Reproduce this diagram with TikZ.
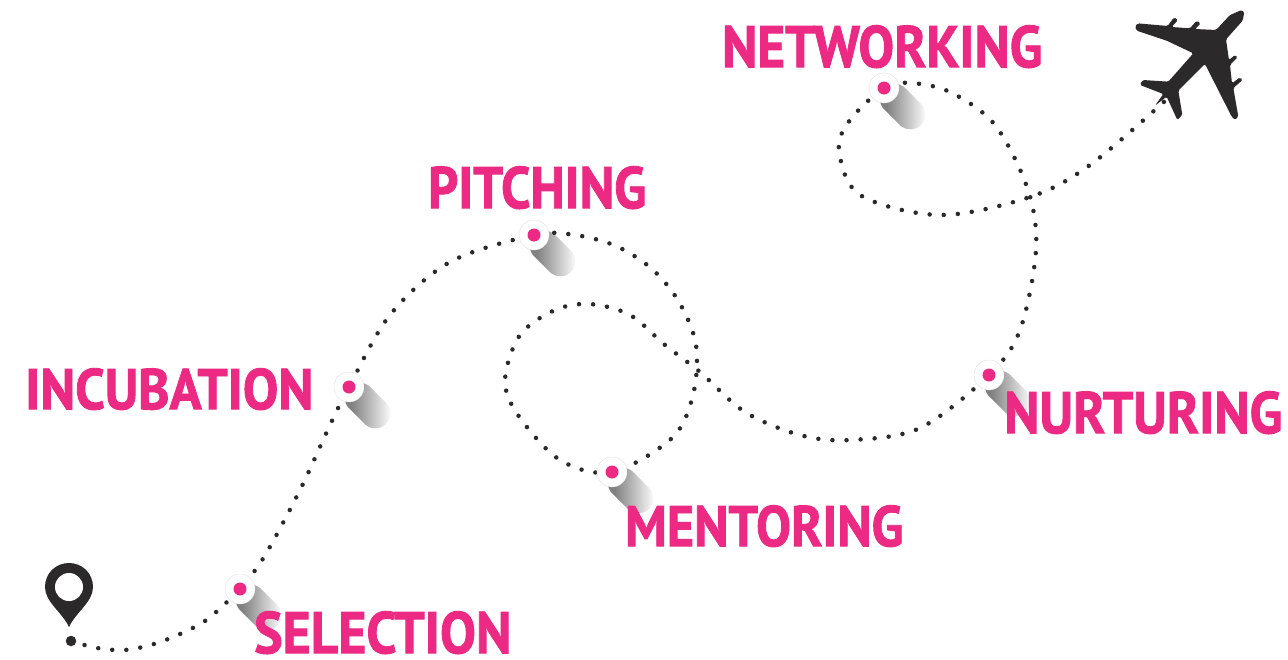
\documentclass[tikz,border=0pt]{standalone}
\usepackage{fontspec}
\usepackage{graphicx}
\setmainfont{PT Sans}[BoldFeatures={FakeBold=1.6}]
\definecolor{hot}{HTML}{EC2A84}
\definecolor{ink}{HTML}{2B292A}
\pgfdeclarehorizontalshading{capfade}{100bp}{color(0bp)=(black!50); color(36bp)=(black!50); color(71bp)=(white); color(100bp)=(white)}
\tikzset{
  trail/.style={draw=ink,line width=4.5pt,line cap=round,dash pattern=on 0pt off 14.1pt},
  halo/.style={circle,fill=white,draw=black!12,line width=.4pt,minimum size=30pt,inner sep=0pt},
  core/.style={circle,fill=hot,minimum size=13pt,inner sep=0pt},
  castshadow/.style={rectangle,rotate=-45,anchor=west,minimum width=52pt,minimum height=30pt,rounded corners=15pt,
     shading=capfade,draw=none,inner sep=0pt},
  lbl/.style={text=hot,inner sep=0pt,anchor=north west,font=\bfseries}
}
\newcommand{\lab}[3]{\resizebox{#1pt}{#2pt}{#3}}
\begin{document}
\begin{tikzpicture}[x=1pt,y=-1pt]
\useasboundingbox[fill=white] (0,0) rectangle (1288,659);
\coordinate (base) at (71,641);
\coordinate (sel) at (240,589);
\coordinate (inc) at (349,387);
\coordinate (pit) at (534,235);
\coordinate (men) at (612,472);
\coordinate (nur) at (989,375);
\coordinate (net) at (884,88);
\coordinate (tail) at (1166,100);
% shadows
\foreach \c/\n in {sel/s1,inc/s2,pit/s3,men/s4,nur/s5,net/s6}{
  \node[castshadow] (\n) at (\c) {};
}
% trail
\draw[trail] plot[smooth,tension=.55] coordinates {
 (base) (97,648) (125,650) (154,644) (180,634) (205,621) (227,602) (sel)
 (264,557) (300,490) (330,425) (inc)
 (390,315) (450,262) (pit)
 (575,235) (616,246) (652,269) (679,302) (696,345) (693,395) (672,438) (men)
 (560,460) (518,415) (505,380) (520,335) (555,310) (590,304) (630,315) (665,345) (700,372) (745,412) (800,435) (850,440) (920,428) (nur)
 (1020,330) (1036,250) (1028,190) (995,125) (950,92) (910,83) (net)
 (850,120) (839,150) (860,195) (940,215) (1030,197) (1090,165) (tail)};
% waypoints
\foreach \c/\n in {sel/selection,inc/incubation,pit/pitching,men/mentoring,nur/nurturing,net/networking}{
  \node[halo] (\n) at (\c) {};
  \node[core] (\n c) at (\c) {};
}
% labels
\node[lbl] (tnet) at (722,25) {\lab{320}{42}{NETWORKING}};
\node[lbl] (tpit) at (428,166) {\lab{218}{42}{PITCHING}};
\node[lbl] (tinc) at (25,368) {\lab{288}{41}{INCUBATION}};
\node[lbl] (tnur) at (1004,391) {\lab{278}{42}{NURTURING}};
\node[lbl] (tmen) at (625,505) {\lab{278}{41}{MENTORING}};
\node[lbl] (tsel) at (254,611) {\lab{257}{42}{SELECTION}};
% pin
\fill[ink] (69,627) .. controls (62,612) and (45,602) .. (45,587) .. controls (45,573) and (56,563) .. (69,563) .. controls (82,563) and (93,573) .. (93,587) .. controls (93,602) and (76,612) .. (69,627) -- cycle;
\fill[white] (69,587) circle[radius=14];
\node[circle,fill=ink,minimum size=10.5pt,inner sep=0pt] (pinbase) at (base) {};
% plane
\begin{scope}[shift={(1100,0)},x=.3333pt,y=-.3333pt]
\fill[ink,rounded corners=1.5pt] (425,30) -- (433,36) -- (428,62) -- (378,118) -- (387,180) -- (405,165) -- (413,172) -- (390,195)
 -- (396,250) -- (420,232) -- (428,240) -- (400,264) -- (415,350) -- (405,360) -- (395,350) -- (315,192) -- (235,272) -- (247,345)
 -- (232,360) -- (200,290) -- (165,317) -- (190,282) -- (120,255) -- (128,240) -- (205,245) -- (280,160) -- (200,122) -- (110,92)
 -- (105,80) -- (113,70) -- (203,78) -- (222,52) -- (234,60) -- (215,81) -- (270,85) -- (290,62) -- (302,70) -- (285,87) -- (348,90) -- (390,45) -- cycle;
\end{scope}
\end{tikzpicture}
\end{document}
